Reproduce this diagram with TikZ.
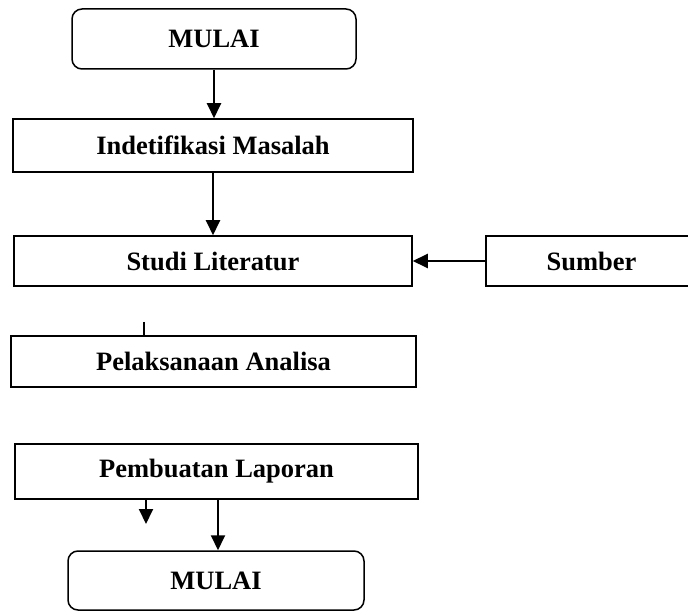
\documentclass[tikz,border=0pt]{standalone}
\usepackage{fontspec}
\setmainfont{Liberation Serif}
\usetikzlibrary{arrows.meta,calc,positioning}

\tikzset{
	kotak/.style={draw, line width=1.5pt, inner sep=0pt, font={\fontsize{26.5}{30}\selectfont\bfseries}},
	bulat/.style={kotak, rounded corners=10pt},
	panah/.style={line width=2pt, -{Triangle[length=15pt, width=14pt]}},
	garis/.style={line width=2pt},
}

\begin{document}
\begin{tikzpicture}[x=1pt, y=-1pt]
		\useasboundingbox (0,0) rectangle (688,612);
		\clip (0,0) rectangle (688,612);

		\node[bulat, minimum width=284pt, minimum height=60pt] at (214,39) (mulai) {MULAI};
		\node[kotak, minimum width=400pt, minimum height=53pt] at (213,145.5) (idm) {Indetifikasi Masalah};
		\node[kotak, minimum width=398pt, minimum height=50pt] at (213,261) (sl) {Studi Literatur};
		\node[kotak, minimum width=211pt, minimum height=50pt] at (591.5,261) (sb) {Sumber};
		\node[kotak, minimum width=405pt, minimum height=51pt] at (213.5,361.5) (pa) {Pelaksanaan Analisa};
		\node[kotak, minimum width=403pt, minimum height=55pt] at (216.5,471.5) (pl) {Pembuatan Laporan};
		\node[bulat, minimum width=296pt, minimum height=59pt] at (216,580.5) (akhir) {MULAI};

		% ujung bebas
		\coordinate (t1) at (144,322);
		\coordinate (t2) at (146,524);

		\draw[panah] (mulai.south) -- (mulai.south |- idm.north);
		\draw[panah] (idm.south) -- (idm.south |- sl.north);
		\draw[panah] (sb.west) -- (sl.east);
		\draw[garis] (t1) -- (t1 |- pa.north);
		\draw[panah] (t2 |- pl.south) -- (t2);
		\draw[panah] ($(akhir.north |- pl.south)+(2,0)$) -- ($(akhir.north)+(2,0)$);

\end{tikzpicture}
\end{document}
